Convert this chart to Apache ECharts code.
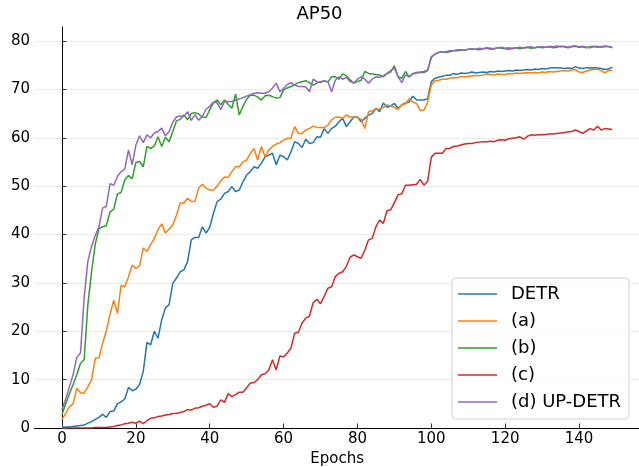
<!DOCTYPE html>
<html><head><meta charset="utf-8">
<script src="https://cdn.jsdelivr.net/npm/echarts@6/dist/echarts.min.js"></script>
<style>html,body{margin:0;padding:0;background:#fff}#c{width:639px;height:467px}</style>
</head><body><div id="c"></div>
<script>
const seriesNames = ['DETR', '(a)', '(b)', '(c)', '(d) UP-DETR'];
const colors = ['#1f77b4', '#ff7f0e', '#2ca02c', '#d62728', '#9467bd'];
const xTicks = [0, 20, 40, 60, 80, 100, 120, 140];
const yTicks = [0, 10, 20, 30, 40, 50, 60, 70, 80];

const detr = [
 0.2,0.2,0.2,0.3,0.4,0.5,0.6,1.0,1.3,1.8,
 2.2,2.8,2.2,3.4,3.5,5.0,5.4,6.0,8.4,7.7,
 8.0,9.0,11.7,17.7,17.2,20.0,18.6,22.4,24.8,25.5,
 29.9,31.0,32.3,32.7,34.4,38.9,39.4,39.4,41.6,40.3,
 41.5,44.4,46.8,47.3,48.5,48.9,49.9,48.9,49.2,50.9,
 52.3,53.0,54.0,53.7,54.7,56.1,56.4,56.8,54.4,56.4,
 56.1,55.4,57.1,59.2,58.8,58.0,59.7,58.8,59.0,60.2,
 60.1,61.9,60.9,61.9,62.4,63.3,64.0,62.3,63.3,64.3,
 64.3,63.3,64.0,64.7,65.0,66.1,65.4,67.2,66.3,66.6,
 67.1,66.1,66.8,67.2,67.4,68.6,67.8,67.8,67.8,68.1,
 71.6,72.3,72.5,72.7,72.9,72.9,73.3,73.1,73.4,73.3,
 73.4,73.6,73.4,73.5,73.6,73.5,73.7,73.6,73.8,73.7,
 73.8,73.9,73.8,74.0,73.9,74.0,74.1,74.0,74.2,74.1,
 74.3,74.2,74.4,74.5,74.5,74.4,74.3,74.4,74.3,74.7,
 74.4,74.3,74.5,74.4,74.5,74.4,74.3,74.1,74.2,74.6
];
const varA = [
 1.8,3.0,4.4,5.0,8.2,7.3,7.2,8.5,10.0,14.4,
 14.5,17.5,20.1,23.5,26.4,23.7,29.5,29.2,31.2,33.7,
 33.0,33.5,37.2,36.5,37.9,39.2,41.0,42.2,40.3,41.1,
 42.0,44.0,46.5,46.5,47.5,46.8,46.8,49.6,50.4,49.6,
 49.2,49.2,50.0,51.1,51.9,51.8,53.0,54.0,54.0,55.0,
 55.4,56.8,57.8,55.4,58.2,56.0,57.5,58.2,58.7,59.0,
 59.5,59.9,59.9,62.3,60.9,60.9,61.6,61.9,62.4,62.1,
 62.1,62.1,62.6,63.7,64.3,64.3,64.0,64.7,64.3,64.3,
 64.2,63.8,61.9,65.4,65.6,65.9,65.9,66.3,66.8,66.6,
 66.3,65.9,66.8,67.0,68.1,67.4,67.1,65.7,65.7,67.4,
 70.9,71.8,71.9,72.1,72.1,72.3,72.4,72.4,72.6,72.6,
 72.7,72.7,72.9,72.8,73.0,73.2,73.1,73.0,73.2,73.1,
 73.1,73.3,73.2,73.4,73.3,73.4,73.5,73.4,73.5,73.4,
 73.6,73.5,73.7,73.6,73.7,73.8,73.9,73.8,74.0,74.1,
 73.6,73.5,73.8,74.0,74.1,74.2,73.9,73.4,73.9,73.9
];
const varB = [
 2.8,5.0,7.1,9.0,11.0,13.4,14.1,25.5,32.3,38.0,
 41.2,41.6,41.8,44.7,45.2,48.4,48.7,51.3,52.2,51.5,
 54.9,55.1,54.0,58.2,57.8,58.3,60.2,58.2,60.1,59.2,
 61.3,63.5,63.8,64.7,63.7,65.0,65.2,64.9,64.3,64.2,
 65.8,67.2,67.8,66.8,67.8,66.9,66.1,69.0,64.7,66.5,
 68.0,68.8,68.8,68.4,67.8,68.7,68.8,68.5,68.2,68.3,
 69.9,70.3,70.6,71.0,71.4,71.6,71.8,71.4,70.9,71.3,
 71.6,71.8,71.5,72.6,72.6,72.1,73.2,72.8,72.0,71.3,
 71.6,71.9,73.7,73.3,73.2,73.1,73.0,72.6,73.3,73.6,
 74.9,72.6,72.3,73.7,72.6,73.2,73.4,73.5,73.5,73.9,
 76.6,77.3,77.6,77.8,77.6,77.8,78.0,78.0,78.1,78.1,
 78.3,78.3,78.3,78.2,78.4,78.5,78.3,78.4,78.6,78.5,
 78.4,78.3,78.5,78.6,78.4,78.6,78.7,78.5,78.6,78.8,
 78.6,78.7,78.8,78.6,78.7,78.9,78.8,78.6,78.8,78.9,
 78.7,78.8,78.6,78.8,78.9,78.7,78.8,79.0,78.8,78.7
];
const varC = [
 0.0,0.0,0.0,0.0,0.0,0.0,0.0,0.0,0.0,0.1,
 0.1,0.1,0.1,0.2,0.3,0.5,0.6,0.9,1.0,1.2,
 1.0,1.4,0.9,1.5,2.0,2.1,2.4,2.5,2.7,2.8,
 3.0,3.0,3.2,3.4,3.8,3.7,4.1,4.2,4.5,4.7,
 5.0,4.3,4.5,5.8,5.3,7.1,6.5,6.9,7.4,7.4,
 8.3,9.3,9.4,10.0,11.0,11.2,12.0,14.1,12.0,14.9,
 14.7,15.5,16.5,19.6,19.8,21.7,22.7,23.1,25.9,26.6,
 25.7,27.2,28.9,29.2,31.3,32.0,32.3,33.4,35.3,35.8,
 35.4,35.1,36.8,38.9,39.2,41.6,43.0,42.3,44.9,45.1,
 46.6,48.2,48.4,50.2,50.2,50.3,50.4,51.4,50.2,51.0,
 56.0,56.8,56.8,56.8,57.8,57.8,58.2,58.3,58.5,58.7,
 58.8,58.8,59.0,59.1,59.2,59.2,59.3,59.2,59.5,59.6,
 59.5,59.8,59.9,60.0,60.2,59.7,60.3,60.6,60.5,60.6,
 60.6,60.7,60.8,60.8,60.9,61.0,61.1,61.2,61.3,61.6,
 61.3,60.9,61.4,61.9,61.6,62.4,61.6,61.9,61.8,61.7
];
const upDetr = [
 3.8,6.0,8.5,11.0,14.6,15.5,27.0,34.5,37.5,39.8,
 41.6,45.5,45.8,50.5,50.2,52.0,53.0,53.5,57.5,54.4,
 58.5,60.4,59.0,60.6,60.0,61.0,61.3,62.0,60.4,61.3,
 63.2,64.3,64.5,64.4,65.4,63.6,64.8,63.6,64.4,65.9,
 66.5,67.4,67.2,65.8,67.5,67.5,67.5,67.8,68.0,68.3,
 68.6,68.9,69.2,69.3,69.2,69.2,69.5,70.3,71.3,69.5,
 70.2,71.0,71.4,70.9,70.6,70.6,70.5,69.5,72.1,71.6,
 71.4,71.8,71.6,69.5,71.9,72.6,72.1,72.5,71.6,71.3,
 72.1,72.6,72.1,71.3,72.1,72.6,72.5,72.8,73.3,73.9,
 74.4,72.6,71.4,73.0,72.6,73.3,73.5,73.6,73.7,74.0,
 76.8,77.3,77.7,77.8,77.8,78.0,78.0,78.2,78.2,78.1,
 78.3,78.4,78.3,78.5,78.4,78.6,78.5,78.4,78.6,78.7,
 78.5,78.6,78.4,78.6,78.7,78.5,78.7,78.8,78.6,78.7,
 78.8,78.7,78.9,78.8,79.0,78.8,78.9,78.7,78.9,79.0,
 78.8,78.9,78.7,78.6,78.8,78.9,78.7,78.8,78.9,78.6
];

const allValues = [detr, varA, varB, varC, upDetr];
const FONT = 'DejaVu Sans';
function toPoints(arr) { return arr.map((v, i) => [i, v]); }

const chart = echarts.init(document.getElementById('c'), null, {renderer: 'canvas'});
chart.setOption({
  animation: false,
  title: {
    text: 'AP50', left: 'center', top: 5, padding: [0, 0, 0, 34],
    textStyle: {fontFamily: FONT, fontSize: 18, fontWeight: 'normal', color: '#000'}
  },
  grid: {left: 34.5, top: 27, width: 605.3, height: 401, containLabel: false, outerBoundsMode: 'none'},
  xAxis: {
    type: 'value', min: -7.45, max: 156.45,
    name: 'Epochs', nameLocation: 'middle', nameGap: 23,
    nameTextStyle: {fontFamily: FONT, fontSize: 15, color: '#000'},
    axisLine: {show: true, onZero: false, lineStyle: {color: '#000', width: 1}},
    axisTick: {show: true, inside: true, length: 4.5, customValues: xTicks, lineStyle: {color: '#333', width: 1}},
    axisLabel: {customValues: xTicks, margin: 4, fontFamily: FONT, fontSize: 15, color: '#000'},
    splitLine: {show: false}
  },
  yAxis: {
    type: 'value', min: 0, max: 82.9,
    axisLine: {show: true, lineStyle: {color: '#000', width: 1}},
    axisTick: {show: true, inside: true, length: 4.5, customValues: yTicks, lineStyle: {color: '#333', width: 1}},
    axisLabel: {customValues: yTicks, margin: 4.5, fontFamily: FONT, fontSize: 15, color: '#000'},
    splitLine: {show: true, lineStyle: {color: '#ebebeb', width: 1}}
  },
  legend: {
    data: seriesNames, orient: 'vertical', left: 452, top: 278,
    icon: 'rect', itemWidth: 39, itemHeight: 1.6, itemGap: 9,
    padding: [7, 8, 8, 6],
    borderColor: '#d0d0d0', borderWidth: 1, borderRadius: 4,
    backgroundColor: 'rgba(255,255,255,0.8)',
    textStyle: {fontFamily: FONT, fontSize: 18, color: '#000', padding: [0, 0, 0, 9]}
  },
  series: seriesNames.map((name, k) => ({
    name: name, type: 'line', data: toPoints(allValues[k]),
    symbol: 'none', showSymbol: false, clip: true,
    color: colors[k],
    lineStyle: {color: colors[k], width: 1.5},
    emphasis: {disabled: true}
  }))
});
</script>
</body></html>
